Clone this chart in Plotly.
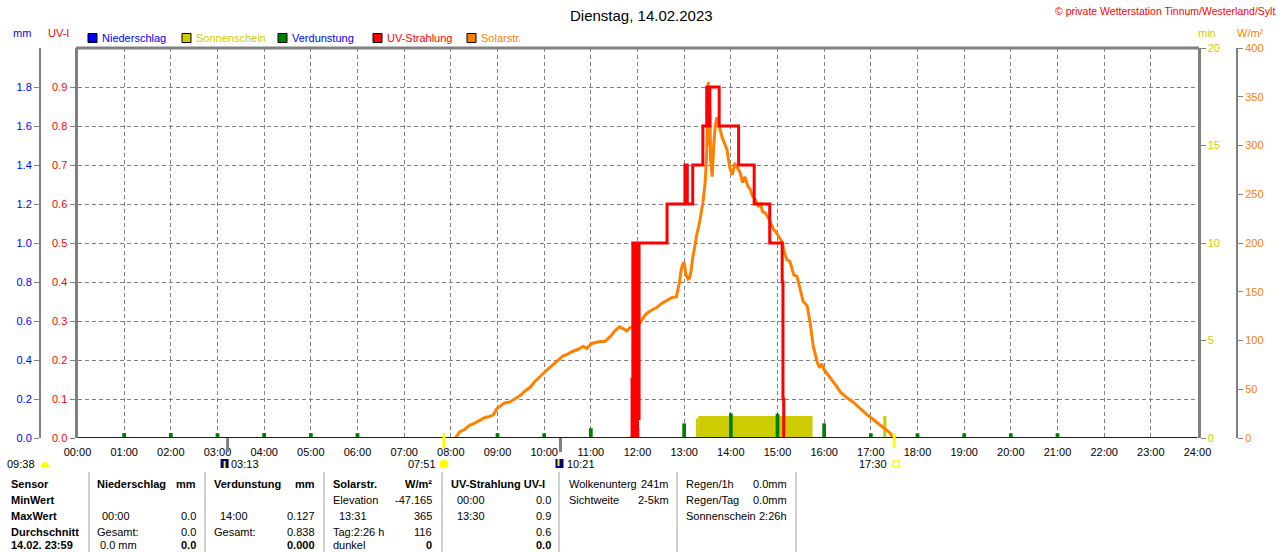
import plotly.graph_objects as go

W, H = 1280, 552

# ---------------- data ----------------
hour_labels = ["00:00", "01:00", "02:00", "03:00", "04:00", "05:00", "06:00", "07:00",
               "08:00", "09:00", "10:00", "11:00", "12:00", "13:00", "14:00", "15:00",
               "16:00", "17:00", "18:00", "19:00", "20:00", "21:00", "22:00", "23:00", "24:00"]
uv_ticks = [0.0, 0.1, 0.2, 0.3, 0.4, 0.5, 0.6, 0.7, 0.8, 0.9]
mm_ticks = [0.0, 0.2, 0.4, 0.6, 0.8, 1.0, 1.2, 1.4, 1.6, 1.8]
min_ticks = [0, 5, 10, 15, 20]
wm2_ticks = [0, 50, 100, 150, 200, 250, 300, 350, 400]

# Solarstrahlung W/m2
solar_time = ["08:06", "08:11", "08:18", "08:24", "08:30", "08:37", "08:44", "08:50", "08:55", "08:59",
              "09:04", "09:09", "09:16", "09:24", "09:30", "09:35", "09:42", "09:48", "09:53", "09:58",
              "10:04", "10:11", "10:17", "10:24", "10:30", "10:37", "10:44", "10:50", "10:55", "11:01",
              "11:06", "11:12", "11:18", "11:25", "11:31", "11:37", "11:42", "11:46", "11:50", "11:54",
              "11:58", "12:03", "12:08", "12:12", "12:18", "12:25", "12:31", "12:38", "12:44", "12:50",
              "12:52", "12:54", "12:56", "12:58", "13:00", "13:02", "13:05", "13:07", "13:09", "13:11",
              "13:14", "13:16", "13:20", "13:24", "13:27", "13:29", "13:30", "13:31", "13:32", "13:33",
              "13:34", "13:36", "13:38", "13:40", "13:42", "13:44", "13:46", "13:49", "13:51", "13:53",
              "13:55", "13:57", "13:59", "14:02", "14:05", "14:08", "14:12", "14:15", "14:18", "14:22",
              "14:25", "14:28", "14:31", "14:35", "14:38", "14:41", "14:44", "14:48", "14:51", "14:55",
              "14:59", "15:03", "15:06", "15:09", "15:12", "15:16", "15:19", "15:21", "15:25", "15:29",
              "15:33", "15:38", "15:42", "15:46", "15:51", "15:54", "15:57", "16:00", "16:03", "16:10",
              "16:15", "16:21", "16:28", "16:37", "16:45", "16:55", "17:03", "17:12", "17:18", "17:25",
              "17:28"]
solar_wm2 = [0, 6, 9, 13, 15, 18, 21, 22, 24, 30,
             33, 36, 37, 41, 44, 48, 52, 58, 62, 66,
             70, 75, 79, 84, 86, 89, 91, 94, 92, 97,
             98, 99, 99, 104, 110, 114, 112, 110, 113, 114,
             110, 118, 124, 128, 131, 134, 138, 141, 144, 145,
             152, 160, 172, 178, 180, 168, 163, 164, 172, 185,
             198, 208, 222, 241, 262, 292, 330, 365, 300, 340,
             285, 268, 300, 320, 329, 322, 316, 308, 304, 300,
             296, 285, 276, 270, 282, 278, 272, 262, 268, 258,
             255, 248, 245, 238, 240, 232, 231, 226, 220, 214,
             210, 205, 201, 190, 183, 181, 172, 167, 166, 152,
             140, 136, 118, 94, 78, 72, 76, 70, 67, 60,
             54, 47, 42, 37, 31, 24, 19, 13, 9, 5,
             0]

# UV-Strahlung UV-I
uv_time = ["11:50", "11:53", "11:54", "11:55", "11:56", "11:57", "11:58", "11:59", "12:00", "12:01",
           "12:02", "12:38", "13:01", "13:02", "13:03", "13:04", "13:11", "13:24", "13:29", "13:30",
           "13:31", "13:32", "13:33", "13:45", "14:10", "14:30", "14:50", "15:06", "15:07", "15:08",
           "15:10"]
uv_value = [0.0, 0.15, 0.5, 0.0, 0.5, 0.15, 0.5, 0.0, 0.5, 0.05,
            0.5, 0.6, 0.7, 0.6, 0.7, 0.6, 0.7, 0.8, 0.9, 0.8,
            0.9, 0.8, 0.9, 0.8, 0.7, 0.6, 0.5, 0.4, 0.1, 0.0,
            0.0]

# Verdunstung mm
evap_time = ["01:00", "02:00", "03:00", "04:00", "05:00", "06:00", "09:00", "10:00", "11:00",
             "12:00", "13:00", "14:00", "15:00", "16:00", "17:00", "18:00", "19:00", "20:00", "21:00"]
evap_mm = [0.026, 0.026, 0.025, 0.026, 0.025, 0.025, 0.025, 0.024, 0.05,
           0.052, 0.075, 0.127, 0.125, 0.075, 0.024, 0.024, 0.024, 0.024, 0.024]

# Sonnenschein min
sun_start = ["13:15", "13:18", "17:16"]
sun_end = ["13:18", "15:45", "17:20"]
sun_min = [1.0, 1.13, 1.13]

# Niederschlag mm
rain_time = ["00:00", "06:00", "12:00", "18:00", "24:00"]
rain_mm = [0.0, 0.0, 0.0, 0.0, 0.0]

# Sonne / Mond
sun_rise, sun_set = "07:51", "17:30"
moon_rise, moon_set = "03:13", "10:21"
moon_info = "09:38"

legend_names = ["Niederschlag", "Sonnenschein", "Verdunstung", "UV-Strahlung", "Solarstr."]
legend_fill = ["#0000FF", "#CCCC00", "#008000", "#FF0000", "#FF8000"]
legend_textcol = ["#0000FF", "#CCCC00", "#0000FF", "#FF0000", "#FF8000"]

# Tabelle: (text, x, anchor, bold)
table_rows = [
    [("Sensor", 9, "left", True), ("Niederschlag", 95, "left", True), ("mm", 198, "right", True),
     ("Verdunstung", 212, "left", True), ("mm", 317, "right", True),
     ("Solarstr.", 331, "left", True), ("W/m²", 434, "right", True),
     ("UV-Strahlung UV-I", 449, "left", True),
     ("Wolkenunterg", 567, "left", False), ("241m", 671, "right", False),
     ("Regen/1h", 684, "left", False), ("0.0mm", 789, "right", False)],
    [("MinWert", 9, "left", True),
     ("Elevation", 331, "left", False), ("-47.165", 434, "right", False),
     ("00:00", 455, "left", False), ("0.0", 553, "right", False),
     ("Sichtweite", 567, "left", False), ("2-5km", 671, "right", False),
     ("Regen/Tag", 684, "left", False), ("0.0mm", 789, "right", False)],
    [("MaxWert", 9, "left", True), ("00:00", 100, "left", False), ("0.0", 198, "right", False),
     ("14:00", 218, "left", False), ("0.127", 317, "right", False),
     ("13:31", 337, "left", False), ("365", 434, "right", False),
     ("13:30", 455, "left", False), ("0.9", 553, "right", False),
     ("Sonnenschein", 684, "left", False), ("2:26h", 789, "right", False)],
    [("Durchschnitt", 9, "left", True), ("Gesamt:", 95, "left", False), ("0.0", 198, "right", False),
     ("Gesamt:", 212, "left", False), ("0.838", 317, "right", False),
     ("Tag:2:26 h", 331, "left", False), ("116", 434, "right", False),
     ("0.6", 553, "right", False)],
    [("14.02. 23:59", 9, "left", True), ("0.0 mm", 98, "left", False), ("0.0", 198, "right", True),
     ("0.000", 317, "right", True), ("dunkel", 331, "left", False), ("0", 434, "right", True),
     ("0.0", 553, "right", True)],
]
table_row_y = [484, 500, 516, 532, 545]
table_sep_x = [89, 205, 324, 442, 559, 677, 796]


def hrs(s):
    h, m = s.split(":")
    return int(h) + int(m) / 60


def px(x):
    return x / W


def py(y):
    return 1 - y / H


FONT = "Liberation Sans"
GRAY = "#808080"
GRID = dict(showgrid=True, gridcolor=GRAY, griddash="4px,3px", gridwidth=1)

fig = go.Figure()

# Sonnenschein (min-Achse)
fig.add_trace(go.Bar(
    x=[(hrs(a) + hrs(b)) / 2 for a, b in zip(sun_start, sun_end)],
    y=sun_min,
    width=[hrs(b) - hrs(a) for a, b in zip(sun_start, sun_end)],
    marker=dict(color="#CCCC00", line_width=0),
    yaxis="y", showlegend=False, hoverinfo="skip"))

# Verdunstung (mm)
fig.add_trace(go.Bar(
    x=[hrs(t) for t in evap_time], y=evap_mm, width=0.08,
    marker=dict(color="#008000", line_width=0),
    yaxis="y2", showlegend=False, hoverinfo="skip"))

# Solarstrahlung
fig.add_trace(go.Scatter(
    x=[hrs(t) for t in solar_time], y=solar_wm2, mode="lines",
    line=dict(color="#FF8000", width=3),
    yaxis="y3", showlegend=False, hoverinfo="skip"))

# UV
fig.add_trace(go.Scatter(
    x=[hrs(t) for t in uv_time], y=uv_value, mode="lines",
    line=dict(color="#FF0000", width=3, shape="hv"),
    yaxis="y4", showlegend=False, hoverinfo="skip"))

# Niederschlag
fig.add_trace(go.Scatter(
    x=[hrs(t) for t in rain_time], y=rain_mm, mode="lines",
    line=dict(color="#0000FF", width=2),
    yaxis="y5", showlegend=False, hoverinfo="skip"))

dom_x = [px(77.5), px(1197.5)]
dom_y = [py(438), py(48)]
tickf = dict(family=FONT, size=11)

fig.update_layout(
    width=W, height=H, autosize=False,
    margin=dict(l=0, r=0, t=0, b=0, pad=0, autoexpand=False),
    paper_bgcolor="white", plot_bgcolor="white",
    barmode="overlay", showlegend=False,
    font=dict(family=FONT, size=11, color="black"),
    xaxis=dict(domain=dom_x, range=[0, 24], tickvals=list(range(25)), ticktext=hour_labels,
               tickfont=dict(tickf, color="black"), ticks="outside", ticklen=4,
               tickcolor="rgba(0,0,0,0)", showline=False, zeroline=False, anchor="y", **GRID),
    yaxis=dict(domain=dom_y, range=[0, 20], tickvals=min_ticks, side="right", anchor="x",
               tickfont=dict(tickf, color="#CCCC00"), ticks="outside", ticklen=5, tickcolor=GRAY,
               showline=True, linecolor=GRAY, linewidth=3, showgrid=False, zeroline=False),
    yaxis2=dict(range=[0, 2.0], tickvals=mm_ticks, ticktext=[f"{v:.1f}" for v in mm_ticks],
                overlaying="y", anchor="free", position=px(40), side="left",
                tickfont=dict(tickf, color="#0000FF"), ticks="outside", ticklen=5, tickcolor=GRAY,
                showline=True, linecolor=GRAY, linewidth=2, showgrid=False, zeroline=False),
    yaxis3=dict(range=[0, 400], tickvals=wm2_ticks, overlaying="y", anchor="free",
                position=px(1237), side="right",
                tickfont=dict(tickf, color="#FF8000"), ticks="outside", ticklen=5, tickcolor=GRAY,
                showline=True, linecolor=GRAY, linewidth=2, showgrid=False, zeroline=False),
    yaxis4=dict(range=[0, 1.0], tickvals=uv_ticks, ticktext=[f"{v:.1f}" for v in uv_ticks],
                overlaying="y", anchor="x", side="left",
                tickfont=dict(tickf, color="#FF0000"), ticks="outside", ticklen=5, tickcolor=GRAY,
                showline=True, linecolor=GRAY, linewidth=3, zeroline=False, **GRID),
    yaxis5=dict(range=[0, 2.0], overlaying="y", visible=False),
)

shapes = []
ann = []


def text(x, y, s, color="black", size=11, anchor="left", bold=False):
    ann.append(dict(x=px(x), y=py(y), xref="paper", yref="paper", showarrow=False,
                    text=f"<b>{s}</b>" if bold else s, xanchor=anchor, yanchor="middle",
                    font=dict(family=FONT, size=size, color=color)))


# Rahmen oben
shapes.append(dict(type="line", xref="paper", yref="paper", x0=px(76), x1=px(1199),
                   y0=py(48), y1=py(48), line=dict(color=GRAY, width=3), layer="above"))

# Titel
text(641, 15, "Dienstag, 14.02.2023", size=15, anchor="center")
text(1277, 11, "© private Wetterstation Tinnum/Westerland/Sylt", color="#FF0000", size=10.5,
     anchor="right")

# Achsentitel
text(22, 33, "mm", color="#0000FF", anchor="center")
text(58, 33, "UV-I", color="#FF0000", anchor="center")
text(1207, 33, "min", color="#CCCC00", anchor="center")
text(1250, 33, "W/m²", color="#FF8000", anchor="center")

# Legende
leg_x = [88, 182, 278, 373, 467]
for name, fc, tc, lx in zip(legend_names, legend_fill, legend_textcol, leg_x):
    shapes.append(dict(type="rect", xref="paper", yref="paper", x0=px(lx), x1=px(lx + 9),
                       y0=py(42.5), y1=py(33.5), fillcolor=fc, line=dict(color="black", width=1)))
    text(lx + 12, 38, name, color=tc)

# Sonnen-/Mondmarken
for t, col, y0, y1 in [(sun_rise, "#FFFF00", 433, 448), (sun_set, "#FFFF00", 433, 448),
                       (moon_rise, GRAY, 438, 452), (moon_set, GRAY, 438, 452)]:
    shapes.append(dict(type="line", xref="x", yref="paper", x0=hrs(t), x1=hrs(t),
                       y0=py(y0), y1=py(y1), line=dict(color=col, width=3), layer="above"))

hx = lambda t: 77.5 + hrs(t) * (1197.5 - 77.5) / 24

# Mondinfo links
text(37, 464, moon_info, anchor="right")
shapes.append(dict(type="path", xref="paper", yref="paper",
                   path=f"M {px(41)} {py(467)} Q {px(45)} {py(457)} {px(49)} {py(467)} Z",
                   fillcolor="#FFFF00", line=dict(color="#FFFF00", width=1)))

# Mondaufgang
mx = hx(moon_rise)
shapes.append(dict(type="rect", xref="paper", yref="paper", x0=px(mx - 7), x1=px(mx + 1),
                   y0=py(468), y1=py(459), fillcolor="#000080", line=dict(width=0), layer="above"))
shapes.append(dict(type="line", xref="paper", yref="paper", x0=px(mx - 3), x1=px(mx - 3),
                   y0=py(468), y1=py(461), line=dict(color="#FFFF00", width=2), layer="above"))
text(mx + 1, 464, moon_rise)

# Monduntergang
mx = hx(moon_set)
shapes.append(dict(type="rect", xref="paper", yref="paper", x0=px(mx - 5), x1=px(mx + 3),
                   y0=py(468), y1=py(459), fillcolor="#000080", line=dict(width=0), layer="above"))
shapes.append(dict(type="line", xref="paper", yref="paper", x0=px(mx - 2), x1=px(mx - 2),
                   y0=py(459), y1=py(466), line=dict(color="#FFFF00", width=2), layer="above"))
text(mx + 4, 464, moon_set)

# Sonnenaufgang
sx = hx(sun_rise)
shapes.append(dict(type="circle", xref="paper", yref="paper", x0=px(sx - 4), x1=px(sx + 4),
                   y0=py(468), y1=py(460), fillcolor="#FFFF00", line=dict(color="#FFFF00", width=1)))
text(sx - 6, 464, sun_rise, anchor="right")

# Sonnenuntergang
sx = hx(sun_set)
shapes.append(dict(type="rect", xref="paper", yref="paper", x0=px(sx - 1), x1=px(sx + 5),
                   y0=py(467), y1=py(461), line=dict(color="#FFFF00", width=1.5)))
text(sx - 5, 464, sun_set, anchor="right")

# Tabelle
for xs in table_sep_x:
    shapes.append(dict(type="line", xref="paper", yref="paper", x0=px(xs), x1=px(xs),
                       y0=py(472), y1=py(552), line=dict(color="#A0A0A0", width=1)))
for row, ry in zip(table_rows, table_row_y):
    for s, x, anc, b in row:
        text(x, ry, s, anchor=anc, bold=b)

fig.update_layout(shapes=shapes, annotations=ann)

fig.write_html("out.html", config={"displayModeBar": False},
               post_script="document.body.style.margin='0px';"
                           "document.body.style.overflow='hidden';")
